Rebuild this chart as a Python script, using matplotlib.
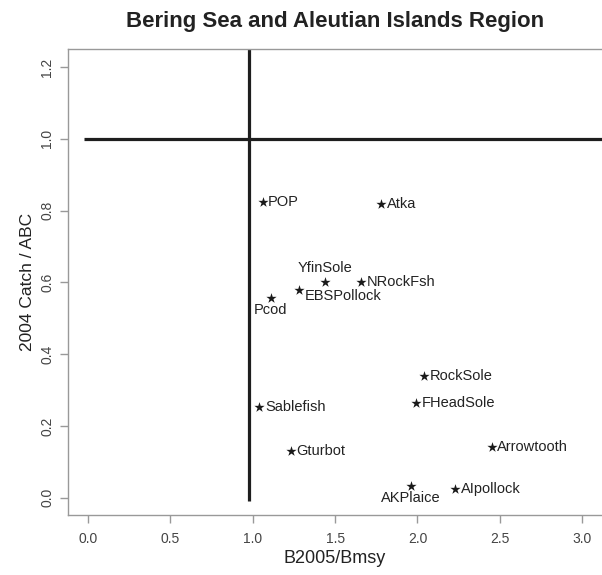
import matplotlib
matplotlib.use("Agg")
import matplotlib.pyplot as plt

plt.rcParams["font.family"] = ["Liberation Sans", "DejaVu Sans"]

# stock status: biomass ratio vs catch/ABC ratio
stocks = ["POP", "Atka", "YfinSole", "NRockFsh", "EBSPollock", "Pcod", "RockSole",
          "FHeadSole", "Sablefish", "Gturbot", "Arrowtooth", "AKPlaice", "AIpollock"]
b_ratio = [1.06, 1.78, 1.44, 1.66, 1.28, 1.11, 2.04, 1.99, 1.04, 1.23, 2.45, 1.96, 2.23]
catch_abc = [0.824, 0.818, 0.60, 0.60, 0.58, 0.557, 0.34, 0.265, 0.254, 0.131, 0.142, 0.033, 0.025]
# label placement per stock: r = right, a = above, b = below, rb = right-below
where = ["r", "r", "a", "r", "rb", "b", "r", "r", "r", "r", "r", "b", "r"]

xticks = [0.0, 0.5, 1.0, 1.5, 2.0, 2.5, 3.0]
yticks = [0.0, 0.2, 0.4, 0.6, 0.8, 1.0, 1.2]

fig = plt.figure(figsize=(6.02, 5.75), dpi=100)
ax = fig.add_axes([68/602, 1-515/575, 1-68/602, (515-49)/575])
ax.set_xlim(-0.121, 3.12)
ax.set_ylim(-0.048, 1.25)

# reference lines at Bmsy and ABC
ax.plot([0.98, 0.98], [-0.01, 1.25], color="#1e1e1e", lw=2.3, solid_capstyle="butt")
ax.plot([-0.024, 3.2], [1.0, 1.0], color="#1e1e1e", lw=2.3, solid_capstyle="butt")

ax.scatter(b_ratio, catch_abc, marker="*", s=60, color="#1a1a1a", zorder=3, linewidths=0)

offs = {"r": ((4, 0), "left", "center"), "a": ((0, 5), "center", "bottom"),
        "b": ((0, -4), "center", "top"), "rb": ((4, -5), "left", "center")}
for name, x, y, w in zip(stocks, b_ratio, catch_abc, where):
    (dx, dy), ha, va = offs[w]
    ax.annotate(name, (x, y), xytext=(dx, dy), textcoords="offset points",
                ha=ha, va=va, fontsize=10.5, color="#222222")

for s in ("top", "left", "bottom"):
    ax.spines[s].set_color("#999999")
    ax.spines[s].set_linewidth(1.0)
ax.spines["right"].set_visible(False)

ax.set_xticks(xticks)
ax.set_xticklabels([f"{v:.1f}" for v in xticks])
ax.set_yticks(yticks)
ax.set_yticklabels([f"{v:.1f}" for v in yticks], rotation=90, va="center")
ax.tick_params(colors="#999999", labelcolor="#444444", labelsize=10, length=6, width=1)
ax.tick_params(axis="x", pad=6)
ax.tick_params(axis="y", pad=4)

ax.set_xlabel("B2005/Bmsy", fontsize=13, color="#222222", labelpad=3)
ax.set_ylabel("2004 Catch / ABC", fontsize=12.5, color="#222222", labelpad=4)
fig.text(0.556, 1-22/575, "Bering Sea and Aleutian Islands Region", ha="center", va="center",
         fontsize=16, fontweight="bold", color="#222222")

fig.savefig("out.png", dpi=100)
